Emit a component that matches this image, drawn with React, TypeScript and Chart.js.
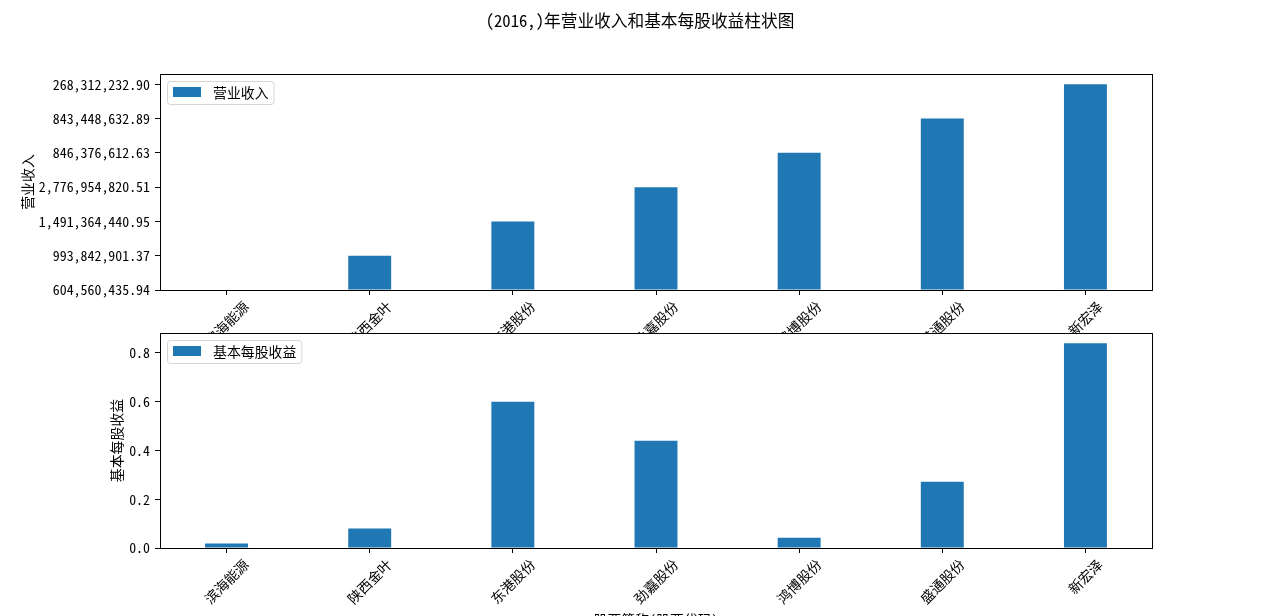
import React, { useEffect, useRef } from 'react';
import { Chart, registerables } from 'chart.js';

Chart.register(...registerables);

// ---- data ----
const companies = ['滨海能源', '陕西金叶', '东港股份', '劲嘉股份', '鸿博股份', '盛通股份', '新宏泽'];
// revenue is plotted as categorical strings (matplotlib style): each string is a y category
const revenue = [
  '604,560,435.94',
  '993,842,901.37',
  '1,491,364,440.95',
  '2,776,954,820.51',
  '846,376,612.63',
  '843,448,632.89',
  '268,312,232.90',
];
const revenueCategories = Array.from(new Set(revenue));
const eps = [0.018, 0.08, 0.6, 0.44, 0.042, 0.272, 0.84];
const epsTicks = [0, 0.2, 0.4, 0.6, 0.8];

const titleText = '(2016,)年营业收入和基本每股收益柱状图';
const xTitleText = '股票简称(股票代码)';
const revenueLabel = '营业收入';
const epsLabel = '基本每股收益';

// ---- style ----
const FONT = "'Noto Sans Mono CJK SC', 'Noto Sans CJK SC', sans-serif";
const FS = 13.9;
const BLUE = '#1f77b4';
const W = 1280;
const H = 616;

type PanelOpts = {
  values: number[];
  yMax: number;
  yTicks: number[];
  yTickLabel: (v: number) => string;
  yTitle: string;
  yTitleX: number;
  legend: string;
  top: number;
  bottom: number;
  fillArea: boolean;
  drawTitle: boolean;
  drawXTitle: boolean;
};

function roundRect(ctx: CanvasRenderingContext2D, x: number, y: number, w: number, h: number, r: number) {
  ctx.beginPath();
  ctx.moveTo(x + r, y);
  ctx.lineTo(x + w - r, y);
  ctx.arcTo(x + w, y, x + w, y + r, r);
  ctx.lineTo(x + w, y + h - r);
  ctx.arcTo(x + w, y + h, x + w - r, y + h, r);
  ctx.lineTo(x + r, y + h);
  ctx.arcTo(x, y + h, x, y + h - r, r);
  ctx.lineTo(x, y + r);
  ctx.arcTo(x, y, x + r, y, r);
  ctx.closePath();
}

function makeConfig(o: PanelOpts): any {
  const plugin = {
    id: 'panelDecor',
    beforeDraw(chart: any) {
      if (!o.fillArea) return;
      const { ctx, chartArea: a } = chart;
      ctx.save();
      ctx.fillStyle = '#fff';
      ctx.fillRect(a.left, a.top, a.right - a.left, a.bottom - a.top);
      ctx.restore();
    },
    afterDraw(chart: any) {
      const { ctx, chartArea: a, scales } = chart;
      ctx.save();
      // frame
      ctx.strokeStyle = '#000';
      ctx.lineWidth = 1;
      ctx.strokeRect(Math.round(a.left) + 0.5, Math.round(a.top) + 0.5, Math.round(a.right - a.left), Math.round(a.bottom - a.top));

      // rotated x tick labels
      ctx.font = `${FS}px ${FONT}`;
      ctx.fillStyle = '#000';
      ctx.textAlign = 'center';
      ctx.textBaseline = 'middle';
      companies.forEach((c, i) => {
        const x = scales.x.getPixelForValue(i);
        const w = ctx.measureText(c).width;
        const half = ((w + FS) * Math.SQRT1_2) / 2;
        const cy = a.bottom + 9 + half;
        ctx.save();
        ctx.translate(x, cy);
        ctx.rotate(-Math.PI / 4);
        ctx.fillText(c, 0, 0);
        ctx.restore();
      });

      // y title
      ctx.save();
      ctx.translate(o.yTitleX, (a.top + a.bottom) / 2);
      ctx.rotate(-Math.PI / 2);
      ctx.fillText(o.yTitle, 0, 0);
      ctx.restore();

      // legend
      const tw = ctx.measureText(o.legend).width;
      const bx = a.left + 7;
      const by = a.top + 7;
      const bw = 46 + tw + 5;
      const bh = 23;
      ctx.fillStyle = 'rgba(255,255,255,0.8)';
      roundRect(ctx, bx + 0.5, by + 0.5, bw, bh, 3);
      ctx.fill();
      ctx.strokeStyle = 'rgba(204,204,204,0.8)';
      ctx.stroke();
      ctx.fillStyle = BLUE;
      ctx.fillRect(bx + 6, by + 6, 28, 10);
      ctx.fillStyle = '#000';
      ctx.textAlign = 'left';
      ctx.fillText(o.legend, bx + 46, by + 12);

      // figure title
      if (o.drawTitle) {
        ctx.textAlign = 'center';
        ctx.font = `16.7px ${FONT}`;
        ctx.fillText(titleText, W / 2, 21);
      }
      if (o.drawXTitle) {
        ctx.textAlign = 'center';
        ctx.font = `${FS}px ${FONT}`;
        ctx.fillText(xTitleText, (a.left + a.right) / 2, 620);
      }
      ctx.restore();
    },
  };

  return {
    type: 'bar',
    data: {
      datasets: [
        {
          label: o.legend,
          data: o.values.map((v, i) => ({ x: i, y: v })),
          backgroundColor: BLUE,
          borderWidth: 0,
          categoryPercentage: 1,
          barPercentage: 0.3,
        },
      ],
    },
    options: {
      responsive: false,
      animation: false,
      devicePixelRatio: 1,
      layout: { padding: { top: o.top, bottom: H - o.bottom - 5, left: 0, right: W - 1152 } },
      plugins: { legend: { display: false }, title: { display: false }, tooltip: { enabled: false } },
      scales: {
        x: {
          type: 'linear',
          min: -0.465,
          max: companies.length - 1 + 0.465,
          offset: false,
          grid: { display: true, drawOnChartArea: false, drawTicks: true, tickLength: 5, color: '#000', offset: false },
          border: { display: false },
          ticks: { display: false, autoSkip: false },
          afterBuildTicks: (s: any) => {
            s.ticks = companies.map((_, i) => ({ value: i }));
          },
          afterFit: (s: any) => {
            s.height = 5;
          },
        },
        y: {
          type: 'linear',
          min: 0,
          max: o.yMax,
          grid: { display: true, drawOnChartArea: false, drawTicks: true, tickLength: 5, color: '#000' },
          border: { display: false },
          ticks: {
            autoSkip: false,
            padding: 5,
            color: '#000',
            font: { family: FONT, size: FS },
            callback: (v: any) => o.yTickLabel(Number(v)),
          },
          afterBuildTicks: (s: any) => {
            s.ticks = o.yTicks.map((v) => ({ value: v }));
          },
          afterFit: (s: any) => {
            s.width = 160;
          },
        },
      },
    },
    plugins: [plugin],
  };
}

export default function App() {
  const topRef = useRef<HTMLCanvasElement>(null);
  const botRef = useRef<HTMLCanvasElement>(null);

  useEffect(() => {
    const revenueValues = revenue.map((r) => revenueCategories.indexOf(r));
    const top = new Chart(
      topRef.current!,
      makeConfig({
        values: revenueValues,
        yMax: (revenueCategories.length - 1) * 1.05,
        yTicks: revenueCategories.map((_, i) => i),
        yTickLabel: (v) => revenueCategories[Math.round(v)] ?? '',
        yTitle: revenueLabel,
        yTitleX: 28,
        legend: revenueLabel,
        top: 74,
        bottom: 290,
        fillArea: false,
        drawTitle: true,
        drawXTitle: false,
      })
    );
    const bot = new Chart(
      botRef.current!,
      makeConfig({
        values: eps,
        yMax: Math.max(...eps) * 1.05,
        yTicks: epsTicks,
        yTickLabel: (v) => v.toFixed(1),
        yTitle: epsLabel,
        yTitleX: 117,
        legend: epsLabel,
        top: 333,
        bottom: 548,
        fillArea: true,
        drawTitle: false,
        drawXTitle: true,
      })
    );
    return () => {
      top.destroy();
      bot.destroy();
    };
  }, []);

  const cs: React.CSSProperties = { position: 'absolute', left: 0, top: 0, width: W, height: H };
  return (
    <div style={{ position: 'fixed', left: 0, top: 0, width: W, height: H, background: '#fff', overflow: 'hidden' }}>
      <canvas ref={topRef} width={W} height={H} style={cs} />
      <canvas ref={botRef} width={W} height={H} style={cs} />
    </div>
  );
}
